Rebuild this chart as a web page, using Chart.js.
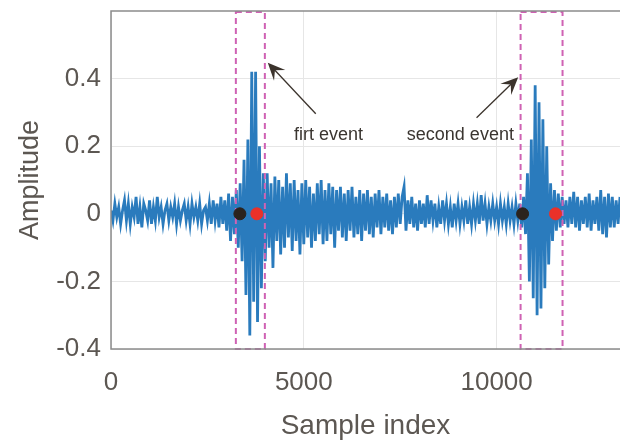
<!DOCTYPE html>
<html>
<head>
<meta charset="utf-8">
<script src="https://cdn.jsdelivr.net/npm/chart.js@4.4.0/dist/chart.umd.min.js"></script>
<style>
  html, body { margin: 0; padding: 0; background: #fff; }
  #wrap { width: 620px; height: 443px; }
</style>
</head>
<body>
<div id="wrap"><canvas id="signalChart" width="620" height="443"></canvas></div>
<script>
const sampleStep = 50;

// amplitudes (une valeur tous les 50 échantillons)
const amplitudes = [
  // 0 - 950
  0.01, -0.02, 0.03, -0.01, 0.02, -0.03, 0.01, 0.04, -0.02, 0.03, -0.03, 0.02, -0.01, 0.05, -0.03, 0.02, -0.04, 0.03, 0.01, -0.02,
  // 1000 - 1950
  0.04, -0.03, 0.02, -0.02, 0.05, -0.01, 0.02, -0.03, 0.01, 0.03, -0.02, 0.02, -0.01, 0.03, -0.03, 0.02, -0.02, 0.01, 0.03, -0.02,
  // 2000 - 2950
  0.02, -0.03, 0.03, -0.01, 0.02, -0.02, 0.03, -0.03, 0.01, 0.02, -0.02, 0.03, -0.03, 0.04, -0.02, 0.03, -0.04, 0.05, -0.03, 0.04,
  // 3000 - 3950 (premier évènement)
  -0.05, 0.06, -0.08, 0.05, -0.06, 0.07, -0.1, 0.09, -0.14, 0.16, -0.24, 0.22, -0.36, 0.42, -0.26, 0.42, -0.32, 0.2, -0.22, 0.12,
  // 4000 - 4950
  -0.14, 0.12, -0.1, 0.09, -0.16, 0.11, -0.08, 0.1, -0.12, 0.08, -0.1, 0.12, -0.07, 0.09, -0.11, 0.1, -0.08, 0.07, -0.12, 0.09,
  // 5000 - 5950
  -0.09, 0.1, -0.07, 0.08, -0.1, 0.06, -0.08, 0.09, -0.06, 0.1, -0.09, 0.07, -0.08, 0.09, -0.06, 0.08, -0.1, 0.07, -0.05, 0.08,
  // 6000 - 6950
  -0.07, 0.06, -0.08, 0.07, -0.05, 0.08, -0.07, 0.05, -0.06, 0.07, -0.08, 0.06, -0.05, 0.07, -0.06, 0.05, -0.07, 0.06, -0.04, 0.07,
  // 7000 - 7950
  -0.06, 0.05, -0.04, 0.06, -0.05, 0.04, -0.06, 0.05, -0.04, 0.06, -0.03, 0.05, 0.08, -0.05, 0.04, -0.03, 0.05, -0.04, 0.03, -0.05,
  // 8000 - 8950
  0.04, -0.03, 0.03, -0.04, 0.055, -0.03, 0.04, -0.02, 0.03, -0.04, 0.02, -0.03, 0.04, -0.02, 0.03, -0.03, 0.02, -0.04, 0.03, -0.02,
  // 9000 - 9950
  0.03, -0.03, 0.02, -0.02, 0.04, -0.03, 0.02, -0.03, 0.03, -0.02, 0.03, -0.03, 0.055, -0.02, 0.03, -0.03, 0.02, -0.02, 0.03, -0.02,
  // 10000 - 10950
  0.02, -0.03, 0.03, -0.02, 0.02, -0.03, 0.03, -0.02, 0.02, -0.03, 0.03, -0.02, 0.03, -0.04, 0.05, -0.06, 0.12, -0.2, 0.22, -0.25,
  // 11000 - 11950 (second évènement)
  0.38, -0.3, 0.33, -0.28, 0.28, -0.22, 0.2, -0.15, 0.09, -0.08, 0.07, -0.05, 0.06, -0.04, 0.05, -0.03, 0.04, -0.04, 0.05, -0.03,
  // 12000 - 12950
  0.065, -0.04, 0.05, -0.05, 0.04, -0.03, 0.05, -0.04, 0.06, -0.05, 0.04, -0.03, 0.05, -0.05, 0.07, -0.06, 0.05, -0.07, 0.06, -0.04,
  // 13000 - 13200
  0.05, -0.04, 0.04, -0.03, 0.05
];

// graduations des axes
const xTicks = [0, 5000, 10000];
const yTicks = [-0.4, -0.2, 0, 0.2, 0.4];

// instants détectés : début (noir) et pic (rouge) de chaque évènement
const onsetSamples = [3342, 10674];
const pickSamples = [3782, 11528];

// fenêtres des évènements (cadres en pointillés)
const windowStarts = [3238, 10622];
const windowEnds = [3990, 11710];

// annotations : texte et flèche (coordonnées en unités des axes)
const eventLabels = ["firt event", "second event"];
const labelX = [5640, 9060];
const labelY = [0.232, 0.232];
const arrowFromX = [5310, 9480];
const arrowFromY = [0.296, 0.284];
const arrowToX = [4066, 10560];
const arrowToY = [0.447, 0.404];

const signalPoints = amplitudes.map((v, i) => ({ x: i * sampleStep, y: v }));

const textColor = "#5c5752";
const fontFamily = "'Liberation Sans', Arial, sans-serif";

// dessine les cadres juste après le signal, et les flèches/textes à la fin
const annotationPlugin = {
  id: "annotations",
  afterDatasetDraw(chart, args) {
    if (args.index !== 2) return;
    const { ctx, chartArea } = chart;
    const xs = chart.scales.x;
    ctx.save();
    ctx.strokeStyle = "#cf62b4";
    ctx.lineWidth = 2;
    ctx.setLineDash([6, 4]);
    windowStarts.forEach((start, i) => {
      const x0 = xs.getPixelForValue(start);
      const x1 = xs.getPixelForValue(windowEnds[i]);
      ctx.strokeRect(x0, chartArea.top + 1, x1 - x0, chartArea.bottom - chartArea.top - 1);
    });
    ctx.restore();
  },
  afterDraw(chart) {
    const { ctx, chartArea } = chart;
    const xs = chart.scales.x;
    const ys = chart.scales.y;
    ctx.save();
    // cadre des axes (haut, gauche, bas)
    ctx.strokeStyle = "#8c8c8c";
    ctx.lineWidth = 1.5;
    ctx.beginPath();
    ctx.moveTo(chartArea.right, chartArea.top);
    ctx.lineTo(chartArea.left, chartArea.top);
    ctx.lineTo(chartArea.left, chartArea.bottom);
    ctx.lineTo(chartArea.right, chartArea.bottom);
    ctx.stroke();

    // flèches
    ctx.strokeStyle = "#3b332c";
    ctx.fillStyle = "#3b332c";
    arrowFromX.forEach((fx, i) => {
      const x0 = xs.getPixelForValue(fx);
      const y0 = ys.getPixelForValue(arrowFromY[i]);
      const x1 = xs.getPixelForValue(arrowToX[i]);
      const y1 = ys.getPixelForValue(arrowToY[i]);
      const ang = Math.atan2(y1 - y0, x1 - x0);
      const len = 19;
      ctx.lineWidth = 1.3;
      ctx.beginPath();
      ctx.moveTo(x0, y0);
      ctx.lineTo(x1 - Math.cos(ang) * 9, y1 - Math.sin(ang) * 9);
      ctx.stroke();
      ctx.beginPath();
      ctx.moveTo(x1, y1);
      ctx.lineTo(x1 - len * Math.cos(ang - 0.42), y1 - len * Math.sin(ang - 0.42));
      ctx.lineTo(x1 - len * 0.55 * Math.cos(ang), y1 - len * 0.55 * Math.sin(ang));
      ctx.lineTo(x1 - len * Math.cos(ang + 0.42), y1 - len * Math.sin(ang + 0.42));
      ctx.closePath();
      ctx.fill();
    });

    // textes
    ctx.fillStyle = "#3a3530";
    ctx.font = "18px " + fontFamily;
    ctx.textAlign = "center";
    ctx.textBaseline = "middle";
    eventLabels.forEach((t, i) => {
      ctx.fillText(t, xs.getPixelForValue(labelX[i]), ys.getPixelForValue(labelY[i]));
    });
    ctx.restore();
  }
};

document.addEventListener("DOMContentLoaded", () => {
  const ctx = document.getElementById("signalChart").getContext("2d");

  new Chart(ctx, {
    type: "scatter",
    data: {
      datasets: [
        {
          label: "onset",
          data: onsetSamples.map(s => ({ x: s, y: 0 })),
          backgroundColor: "#2b231e",
          borderColor: "#2b231e",
          pointRadius: 6,
          showLine: false
        },
        {
          label: "pick",
          data: pickSamples.map(s => ({ x: s, y: 0 })),
          backgroundColor: "#ea3129",
          borderColor: "#ea3129",
          pointRadius: 6,
          showLine: false
        },
        {
          label: "signal",
          data: signalPoints,
          showLine: true,
          borderColor: "#2a7bbd",
          borderWidth: 2.8,
          pointRadius: 0,
          tension: 0
        }
      ]
    },
    options: {
      responsive: false,
      animation: false,
      layout: { autoPadding: false, padding: { top: 11, right: 0, left: 0, bottom: 0 } },
      plugins: {
        legend: { display: false },
        tooltip: { enabled: false }
      },
      scales: {
        x: {
          type: "linear",
          min: 0,
          max: 13200,
          afterBuildTicks: axis => { axis.ticks = xTicks.map(v => ({ value: v })); },
          afterFit: axis => {
            axis.height = 94;
            axis.paddingLeft = 0;
            axis.paddingRight = 0;
          },
          border: { display: false },
          grid: { color: "#e6e6e6", drawTicks: false },
          ticks: {
            padding: 18,
            color: textColor,
            font: { family: fontFamily, size: 26 },
            maxRotation: 0,
            callback: v => String(v)
          },
          title: {
            display: true,
            text: "Sample index",
            color: textColor,
            font: { family: fontFamily, size: 28 },
            padding: { top: 0, bottom: 0 }
          }
        },
        y: {
          min: -0.4,
          max: 0.6,
          afterBuildTicks: axis => { axis.ticks = yTicks.map(v => ({ value: v })); },
          afterFit: axis => {
            axis.width = 111;
            axis.paddingTop = 0;
            axis.paddingBottom = 0;
          },
          border: { display: false },
          grid: { color: "#e6e6e6", drawTicks: false },
          ticks: {
            padding: 10,
            color: textColor,
            font: { family: fontFamily, size: 26 },
            callback: v => String(Math.round(v * 10) / 10)
          },
          title: {
            display: true,
            text: "Amplitude",
            color: textColor,
            font: { family: fontFamily, size: 27 },
            padding: { top: 14, bottom: 0 }
          }
        }
      }
    },
    plugins: [annotationPlugin]
  });
});
</script>
</body>
</html>
